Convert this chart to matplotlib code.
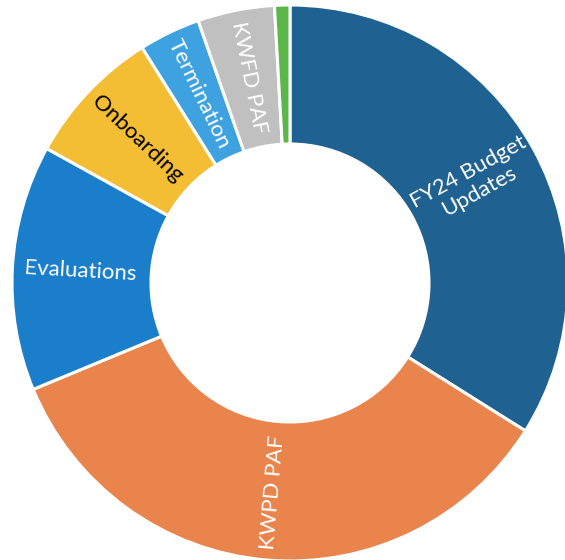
import numpy as np
import matplotlib.pyplot as plt

categories = ["FY24 Budget\nUpdates", "KWPD PAF", "Evaluations", "Onboarding",
              "Termination", "KWFD PAF", ""]
counts = [38, 39, 16, 9, 4, 5, 1]
colors = ["#1f6190", "#e8844c", "#1b7ecb", "#f3bd34", "#3ea2e0", "#c0c0c0", "#5cb74a"]
label_colors = ["white", "white", "white", "black", "white", "white", "white"]

fig = plt.figure(figsize=(5.65, 5.60), dpi=100)
ax = fig.add_axes([0, 0, 1, 1])

wedges, _ = ax.pie(counts, colors=colors, startangle=90, counterclock=False,
                   radius=1.0,
                   wedgeprops=dict(width=0.5, edgecolor="white", linewidth=2.2))

# labels inside the ring, rotated along the radius (Excel style)
for w, lab, lc in zip(wedges, categories, label_colors):
    if not lab:
        continue
    mid = np.deg2rad((w.theta1 + w.theta2) / 2)
    deg = np.rad2deg(mid) % 360
    rot = deg if (deg <= 90 or deg >= 270) else deg - 180
    r = 0.755
    ax.text(r * np.cos(mid), r * np.sin(mid), lab, rotation=rot,
            rotation_mode="anchor", ha="center", va="center",
            color=lc, fontsize=16, family="Lato", linespacing=1.1)

ax.set_xlim(-290 / 278, (565 - 290) / 278)
ax.set_ylim(-(560 - 283) / 278, 283 / 278)
ax.set_aspect("auto")
ax.axis("off")

fig.savefig("out.png", dpi=100)
